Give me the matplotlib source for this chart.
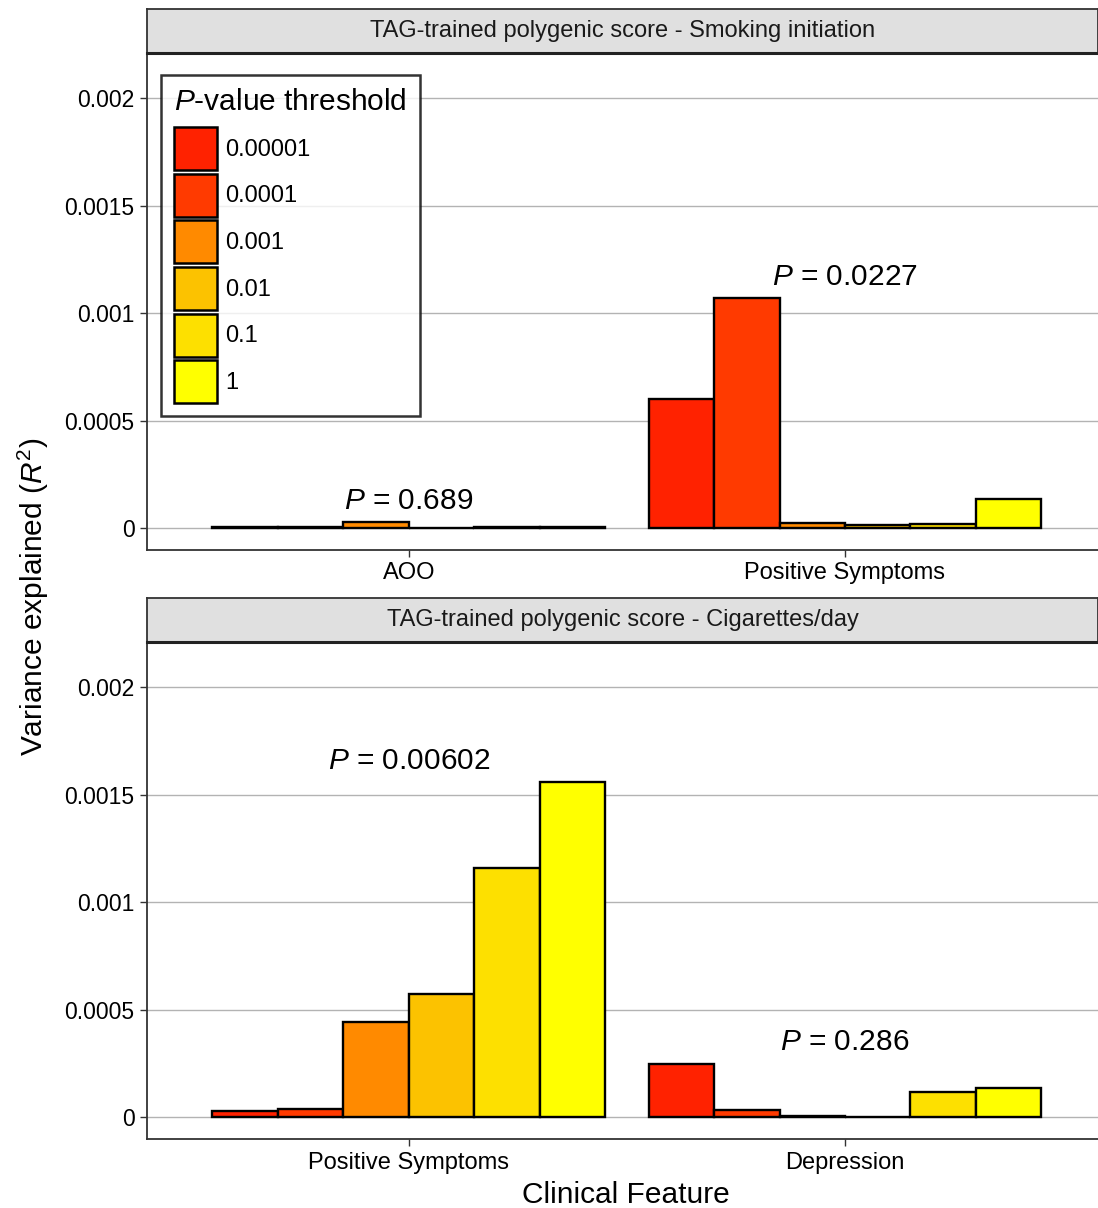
import matplotlib
matplotlib.use("Agg")
import matplotlib.pyplot as plt
from matplotlib.patches import Patch
import numpy as np

plt.rcParams['font.family'] = ['Liberation Sans', 'DejaVu Sans']
plt.rcParams['mathtext.fontset'] = 'custom'
plt.rcParams['mathtext.rm'] = 'Liberation Sans'
plt.rcParams['mathtext.it'] = 'Liberation Sans:italic'

thresholds = ["0.00001", "0.0001", "0.001", "0.01", "0.1", "1"]
colors = ["#ff2200", "#ff3a00", "#ff8a00", "#fcc200", "#fde000", "#ffff00"]

# Panel 1: Smoking initiation
p1_title = "TAG-trained polygenic score - Smoking initiation"
p1_categories = ["AOO", "Positive Symptoms"]
p1_aoo = [0.000005, 0.000003, 0.000028, 0.000002, 0.000003, 0.000005]
p1_pos = [0.00060, 0.00107, 0.000023, 0.000014, 0.000019, 0.000135]
p1_pvals = ["0.689", "0.0227"]
p1_label_y = [0.000126, 0.001167]

# Panel 2: Cigarettes/day
p2_title = "TAG-trained polygenic score - Cigarettes/day"
p2_categories = ["Positive Symptoms", "Depression"]
p2_pos = [0.000028, 0.000037, 0.000442, 0.000572, 0.001158, 0.001558]
p2_dep = [0.000247, 0.000033, 0.000005, 0.000002, 0.000116, 0.000135]
p2_pvals = ["0.00602", "0.286"]
p2_label_y = [0.001656, 0.000349]

yticks = [0, 0.0005, 0.001, 0.0015, 0.002]
ytick_labels = ["0", "0.0005", "0.001", "0.0015", "0.002"]

W, H = 1098, 1208
fig = plt.figure(figsize=(W / 100, H / 100), dpi=100)

def fx(px):
    return px / W

def fy(py):
    return 1 - py / H

panels = [
    (p1_title, p1_categories, [p1_aoo, p1_pos], p1_pvals, p1_label_y, 9, 53, 550),
    (p2_title, p2_categories, [p2_pos, p2_dep], p2_pvals, p2_label_y, 598, 642, 1139),
]

bw = 0.15
axes = []
for title, cats, groups, pvals, label_y, strip_top, ax_top, ax_bot in panels:
    ax = fig.add_axes([fx(147), fy(ax_bot), fx(W - 147), (ax_bot - ax_top) / H])
    axes.append(ax)
    x = np.arange(len(cats))
    for i in range(len(thresholds)):
        vals = [g[i] for g in groups]
        ax.bar(x + (i - 2.5) * bw, vals, width=bw, color=colors[i],
               edgecolor="black", linewidth=1.7, zorder=3)
    ax.set_xlim(-0.6, 1.58)
    ax.set_ylim(-0.000102, 0.00221)
    ax.set_yticks(yticks)
    ax.set_yticklabels(ytick_labels)
    ax.set_xticks(x)
    ax.set_xticklabels(cats)
    ax.yaxis.grid(True, color="#b3b3b3", linewidth=1.0, zorder=0)
    ax.xaxis.grid(False)
    for s in ["top", "right"]:
        ax.spines[s].set_visible(False)
    for s in ["left", "bottom"]:
        ax.spines[s].set_linewidth(1.3)
        ax.spines[s].set_color("#333333")
    ax.tick_params(axis="y", labelsize=16.5, colors="#333333", labelcolor="black",
                   length=5, width=1.0, pad=4)
    ax.tick_params(axis="x", labelsize=17, colors="#333333", labelcolor="black",
                   length=5, width=1.0, pad=4)
    for xi, pv, ly in zip(x, pvals, label_y):
        ax.text(xi, ly, r"$\it{P}$" + " = " + pv, ha="center", va="center", fontsize=21.5)
    # strip
    sax = fig.add_axes([fx(147), fy(ax_top), fx(W - 147), (ax_top - strip_top) / H])
    sax.set_xlim(0, 1)
    sax.set_ylim(0, 1)
    sax.set_facecolor("#e0e0e0")
    for s in ["top", "left", "right"]:
        sax.spines[s].set_linewidth(1.3)
        sax.spines[s].set_color("#333333")
    sax.spines["bottom"].set_linewidth(2.2)
    sax.spines["bottom"].set_color("#222222")
    sax.set_xticks([])
    sax.set_yticks([])
    sax.text(0.5, 0.5, title, ha="center", va="center", fontsize=17, color="#1a1a1a")

handles = [Patch(facecolor=c, edgecolor="black", linewidth=1.8) for c in colors]
leg = axes[0].legend(handles, thresholds, title=r"$\it{P}$" + "-value threshold",
                     loc="upper left", bbox_to_anchor=(14 / (W - 147), 1 - 22 / 497),
                     fontsize=17, title_fontsize=21.5, frameon=True, fancybox=False,
                     edgecolor="black", handlelength=1.82, handleheight=2.43,
                     labelspacing=0.15, handletextpad=0.35, borderpad=0.55,
                     borderaxespad=0)
leg.get_frame().set_linewidth(1.8)
leg._legend_box.align = "left"
leg._legend_box.sep = 8
leg.set_zorder(10)

fig.text(fx(33), fy(597), "Variance explained (" + r"$\it{R}^2$" + ")", rotation=90,
         ha="center", va="center", fontsize=21.5)
fig.text(fx(626), fy(1195), "Clinical Feature", ha="center", va="center", fontsize=21.5)

fig.savefig("out.png", dpi=100, facecolor="white")
